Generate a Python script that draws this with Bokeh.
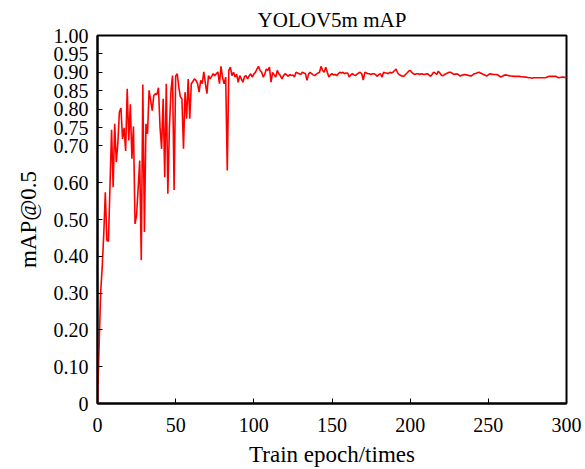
from bokeh.plotting import figure
from bokeh.models import FixedTicker, Range1d
from bokeh.embed import file_html
from bokeh.resources import INLINE

epochs = [0, 1, 2, 3, 4, 5, 6, 7, 9, 10, 11, 12, 13, 14, 15, 16, 17, 18, 19, 20,
          21, 22, 23, 24, 25, 27, 28, 29, 30, 31, 32, 33, 35, 36, 37, 38, 39, 40,
          41, 42, 43, 44, 45, 46, 47, 48, 49, 50, 51, 52, 53, 54, 55, 56, 57, 58,
          59, 60, 61, 62, 63, 64, 65, 66, 67, 68, 69, 70, 71, 72, 73, 74, 75, 76,
          77, 78, 79, 80, 81, 82, 83, 84, 85, 86, 87, 88, 89] + list(range(90, 301))

map50 = [0.00, 0.15, 0.30, 0.37, 0.46, 0.574, 0.443, 0.441, 0.744, 0.588, 0.76, 0.656,
         0.706, 0.792, 0.803, 0.719, 0.749, 0.686, 0.855, 0.715, 0.813, 0.665, 0.753,
         0.488, 0.511, 0.66, 0.389, 0.867, 0.466, 0.76, 0.733, 0.851, 0.796, 0.837,
         0.842, 0.84, 0.858, 0.751, 0.692, 0.828, 0.615, 0.869, 0.57, 0.75, 0.85,
         0.891, 0.58, 0.89, 0.896, 0.86, 0.833, 0.828, 0.692, 0.846, 0.774, 0.882,
         0.774, 0.869, 0.875, 0.882, 0.878, 0.869, 0.846, 0.878, 0.869, 0.901, 0.87,
         0.842, 0.891, 0.882, 0.889, 0.896, 0.891, 0.896, 0.901, 0.869, 0.916, 0.885,
         0.869, 0.887, 0.633, 0.905, 0.914, 0.891, 0.90, 0.887, 0.895,
         # 90 - 99
         0.873, 0.891, 0.882, 0.873, 0.888, 0.891, 0.882, 0.89, 0.896, 0.887,
         # 100 - 109
         0.895, 0.90, 0.909, 0.916, 0.905, 0.90, 0.887, 0.895, 0.909, 0.905,
         # 110 - 119
         0.914, 0.873, 0.90, 0.893, 0.887, 0.905, 0.896, 0.891, 0.882, 0.891,
         # 120 - 129
         0.896, 0.893, 0.889, 0.894, 0.891, 0.893, 0.887, 0.90, 0.898, 0.896,
         # 130 - 139
         0.894, 0.90, 0.898, 0.896, 0.878, 0.895, 0.90, 0.896, 0.893, 0.891,
         # 140 - 149
         0.895, 0.898, 0.90, 0.916, 0.905, 0.90, 0.914, 0.90, 0.887, 0.893,
         # 150 - 159
         0.896, 0.893, 0.894, 0.891, 0.896, 0.90, 0.898, 0.90, 0.896, 0.898,
         # 160 - 169
         0.898, 0.887, 0.893, 0.896, 0.893, 0.891, 0.895, 0.898, 0.90, 0.896,
         # 170 - 179
         0.879, 0.90, 0.898, 0.896, 0.896, 0.894, 0.896, 0.896, 0.893, 0.889,
         # 180 - 189
         0.894, 0.896, 0.887, 0.90, 0.898, 0.898, 0.896, 0.90, 0.898, 0.90,
         # 190 - 199
         0.905, 0.909, 0.898, 0.894, 0.891, 0.890, 0.889, 0.894, 0.898, 0.903,
         # 200 - 209
         0.905, 0.90, 0.896, 0.894, 0.896, 0.896, 0.894, 0.896, 0.895, 0.894,
         # 210 - 219
         0.895, 0.896, 0.893, 0.889, 0.894, 0.90, 0.898, 0.894, 0.903, 0.898,
         # 220 - 229
         0.892, 0.891, 0.894, 0.896, 0.898, 0.90, 0.90, 0.897, 0.894, 0.895,
         # 230 - 239
         0.896, 0.893, 0.890, 0.892, 0.893, 0.894, 0.893, 0.892, 0.891, 0.890,
         # 240 - 249
         0.893, 0.896, 0.897, 0.899, 0.90, 0.898, 0.896, 0.894, 0.892, 0.890,
         # 250 - 259
         0.893, 0.896, 0.895, 0.894, 0.894, 0.894, 0.893, 0.89, 0.887, 0.889,
         # 260 - 269
         0.892, 0.893, 0.892, 0.891, 0.890, 0.890, 0.889, 0.889, 0.889, 0.889,
         # 270 - 279
         0.889, 0.888, 0.888, 0.887, 0.887, 0.886, 0.885, 0.885, 0.884, 0.885,
         # 280 - 289
         0.885, 0.885, 0.885, 0.885, 0.885, 0.885, 0.885, 0.886, 0.888, 0.889,
         # 290 - 300
         0.889, 0.889, 0.889, 0.889, 0.887, 0.885, 0.886, 0.887, 0.887, 0.886, 0.885]

x_ticks = [0, 50, 100, 150, 200, 250, 300]
y_ticks = [0, 0.1, 0.2, 0.3, 0.4, 0.5, 0.6, 0.7, 0.75, 0.8, 0.85, 0.9, 0.95, 1.0]
y_tick_labels = ["0", "0.10", "0.20", "0.30", "0.40", "0.50", "0.60", "0.70",
                 "0.75", "0.80", "0.85", "0.90", "0.95", "1.00"]

FONT = "'Liberation Serif', 'Times New Roman', serif"

p = figure(width=585, height=469, output_backend="svg", toolbar_location=None,
           x_range=Range1d(0, 300), y_range=Range1d(0, 1.0),
           min_border_left=97, min_border_right=19, min_border_top=35,
           min_border_bottom=66, title="YOLOV5m mAP")

p.line(epochs, map50, line_color="#ff0000", line_width=1.6)

p.title.align = "center"
p.title.text_font = FONT
p.title.text_font_size = "21px"
p.title.text_font_style = "normal"
p.title.text_color = "black"
p.title.offset = 0
p.title.standoff = 8

p.xgrid.visible = False
p.ygrid.visible = False
p.outline_line_color = "black"
p.outline_line_width = 2
p.outline_line_alpha = 1.0

for ax in (p.xaxis[0], p.yaxis[0]):
    ax.axis_line_width = 2
    ax.axis_line_color = "black"
    ax.major_tick_in = 5
    ax.major_tick_out = 0
    ax.minor_tick_in = 0
    ax.minor_tick_out = 0
    ax.major_tick_line_color = "black"
    ax.major_tick_line_width = 1
    ax.major_label_text_font = FONT
    ax.major_label_text_font_size = "20px"
    ax.major_label_text_color = "black"
    ax.axis_label_text_font = FONT
    ax.axis_label_text_font_size = "23px"
    ax.axis_label_text_font_style = "normal"
    ax.axis_label_text_color = "black"

p.xaxis.ticker = FixedTicker(ticks=x_ticks)
p.yaxis.ticker = FixedTicker(ticks=y_ticks)
p.yaxis.major_label_overrides = {t: l for t, l in zip(y_ticks, y_tick_labels)}
p.xaxis.axis_label = "Train epoch/times"
p.yaxis.axis_label = "mAP@0.5"
p.xaxis.major_label_standoff = 14
p.xaxis.axis_label_standoff = 7
p.yaxis.major_label_standoff = 9
p.yaxis.axis_label_standoff = 10

open("out.html", "w").write(file_html(p, INLINE))
